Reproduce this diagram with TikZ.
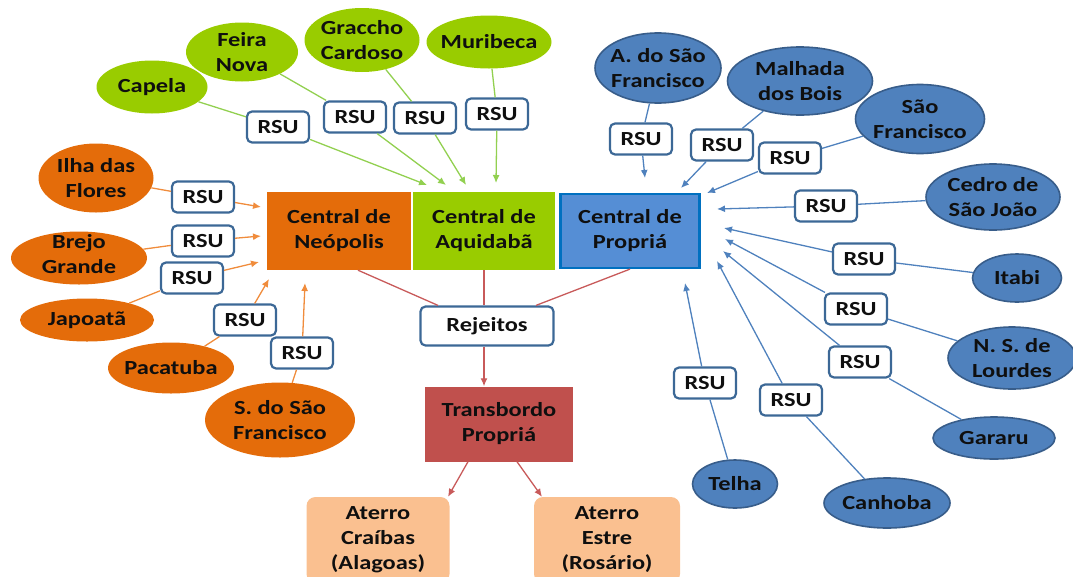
\documentclass[tikz,border=0pt]{standalone}
\usepackage{fontspec}
\setmainfont{Carlito}[FakeStretch=1.22]
\usetikzlibrary{arrows.meta,shapes.geometric}
\definecolor{orgC}{RGB}{228,108,10}
\definecolor{grnC}{RGB}{153,204,0}
\definecolor{bluC}{RGB}{79,129,189}
\definecolor{bluD}{RGB}{56,93,138}
\definecolor{propC}{RGB}{85,142,213}
\definecolor{propD}{RGB}{0,112,192}
\definecolor{redC}{RGB}{192,80,77}
\definecolor{ateC}{RGB}{250,192,144}
\definecolor{rsuC}{RGB}{60,104,150}
\definecolor{gLine}{RGB}{146,208,80}
\definecolor{oLine}{RGB}{240,140,60}
\definecolor{bLine}{RGB}{79,129,189}
\definecolor{rLine}{RGB}{200,90,90}
\definecolor{txtC}{RGB}{15,15,15}
\begin{document}
\begin{tikzpicture}[x=1pt,y=-1pt,
  font=\fontsize{20}{25}\selectfont\bfseries, text=txtC,
  every label/.style={align=center, inner sep=0pt, text=txtC},
  ell/.style={ellipse, inner sep=0pt, draw=none},
  oell/.style={ell, fill=orgC},
  gell/.style={ell, fill=grnC},
  bell/.style={ell, fill=bluC, draw=bluD, line width=1.6pt},
  rsu/.style={draw=rsuC, fill=white, rounded corners=5pt, line width=2.2pt, minimum width=62pt, minimum height=31pt, inner sep=0pt},
  cbox/.style={rectangle, minimum height=78pt, inner sep=0pt, align=center},
  tip/.style={-{Latex[length=8pt,width=7pt]}},
  gl/.style={draw=gLine, line width=1.3pt},
  ol/.style={draw=oLine, line width=1.3pt},
  bl/.style={draw=bLine, line width=1.3pt},
  rl/.style={draw=rLine, line width=1.3pt}]
\useasboundingbox (0,0) rectangle (1073,576);

% central boxes
\node[cbox, fill=orgC, minimum width=144pt] (neo) at (339,231) {Central de\\Neópolis};
\node[cbox, fill=grnC, minimum width=142pt] (aqui) at (484,231) {Central de\\Aquidabã};
\node[cbox, fill=propC, draw=propD, line width=2.2pt, minimum width=139pt, minimum height=74pt] (prop) at (630,231) {Central de\\Propriá};
\node[rsu, minimum width=133pt, minimum height=39pt] (rej) at (487,326) {Rejeitos};
\node[cbox, fill=redC, minimum width=148pt, minimum height=75pt] (trans) at (499,424) {Transbordo\\Propriá};
\node[cbox, fill=ateC, rounded corners=9pt, minimum width=143pt, minimum height=86pt] (at1) at (378,540) {\raisebox{3pt}{\parbox{140pt}{\centering Aterro\\Craíbas\\(Alagoas)}}};
\node[cbox, fill=ateC, rounded corners=9pt, minimum width=146pt, minimum height=86pt] (at2) at (607,540) {\raisebox{3pt}{\parbox{140pt}{\centering Aterro\\Estre\\(Rosário)}}};

\draw[rl] ([xshift=19pt]neo.south) -- ([xshift=-49pt]rej.north);
\draw[rl] (aqui.south) -- ([xshift=-3pt]rej.north);
\draw[rl] (prop.south) -- ([xshift=49pt]rej.north);
\draw[rl,tip] ([xshift=-3pt]rej.south) -- ([xshift=-15pt]trans.north);
\draw[rl,tip] ([xshift=-31pt]trans.south) -- ([xshift=70pt]at1.north);
\draw[rl,tip] ([xshift=18pt]trans.south) -- ([xshift=-65pt]at2.north);

% green sources
\node[gell, minimum width=111pt, minimum height=53pt, label=center:Capela] (capela) at (152,87) {};
\node[gell, minimum width=112pt, minimum height=59pt, label={center:Feira\\Nova}] (feira) at (242,52) {};
\node[gell, minimum width=115pt, minimum height=64pt, label={center:Graccho\\Cardoso}] (graccho) at (362,40) {};
\node[gell, minimum width=125pt, minimum height=53pt, label=center:Muribeca] (muribeca) at (489,42) {};
\node[rsu] (g1) at (278,127) {RSU};
\node[rsu] (g2) at (355,117) {RSU};
\node[rsu] (g3) at (425,118) {RSU};
\node[rsu] (g4) at (497,114) {RSU};
\coordinate (tg1) at (427,185);
\coordinate (tg2) at (446,185);
\coordinate (tg3) at (466,185);
\coordinate (tg4) at (496,183);
\foreach \s/\r/\t in {capela/g1/tg1, feira/g2/tg2, graccho/g3/tg3, muribeca/g4/tg4}{
  \draw[gl] (\s) -- (\r);
  \draw[gl,tip] (\r) -- (\t);
}

% orange sources
\node[oell, minimum width=115pt, minimum height=69pt, label={center:Ilha das\\Flores}] (ilha) at (96,178) {};
\node[oell, minimum width=136pt, minimum height=53pt, label={[yshift=4pt]center:Brejo\\Grande}] (brejo) at (79,258) {};
\node[oell, minimum width=134pt, minimum height=43pt, label=center:Japoatã] (japoata) at (87,320) {};
\node[oell, minimum width=126pt, minimum height=51pt, label=center:Pacatuba] (pacatuba) at (171,368) {};
\node[oell, minimum width=150pt, minimum height=75pt, label={center:S. do São\\Francisco}] (sdsf) at (280,420) {};
\node[rsu] (o1) at (203,197) {RSU};
\node[rsu] (o2) at (203,241) {RSU};
\node[rsu] (o3) at (192,278) {RSU};
\node[rsu] (o4) at (245,320) {RSU};
\node[rsu] (o5) at (302,353) {RSU};
\coordinate (to1) at (261,207);
\coordinate (to2) at (261,236);
\coordinate (to3) at (259,262);
\coordinate (to4) at (269,279);
\coordinate (to5) at (305,283);
\foreach \s/\r/\t in {ilha/o1/to1, brejo/o2/to2, japoata/o3/to3, pacatuba/o4/to4, sdsf/o5/to5}{
  \draw[ol] (\s) -- (\r);
  \draw[ol,tip] (\r) -- (\t);
}

% blue sources
\node[bell, minimum width=126pt, minimum height=70pt, label={center:A. do São\\Francisco}] (asf) at (658,68) {};
\node[bell, minimum width=145pt, minimum height=68pt, label={center:Malhada\\dos Bois}] (malhada) at (800,81) {};
\node[bell, minimum width=129pt, minimum height=69pt, label={center:São\\Francisco}] (saof) at (920,119) {};
\node[bell, minimum width=134pt, minimum height=66pt, label={center:Cedro de\\São João}] (cedro) at (993,197) {};
\node[bell, minimum width=89pt, minimum height=48pt, label=center:Itabi] (itabi) at (1017,278) {};
\node[bell, minimum width=128pt, minimum height=62pt, label={center:N. S. de\\Lourdes}] (lourdes) at (1012,358) {};
\node[bell, minimum width=122pt, minimum height=42pt, label=center:Gararu] (gararu) at (994,438) {};
\node[bell, minimum width=126pt, minimum height=50pt, label=center:Canhoba] (canhoba) at (887,503) {};
\node[bell, minimum width=85pt, minimum height=48pt, label=center:Telha] (telha) at (735,484) {};
\node[rsu] (b1) at (641,139) {RSU};
\node[rsu] (b2) at (722,145) {RSU};
\node[rsu] (b3) at (790,158) {RSU};
\node[rsu] (b4) at (826,206) {RSU};
\node[rsu] (b5) at (864,259) {RSU};
\node[rsu] (b6) at (856,309) {RSU};
\node[rsu] (b7) at (860,362) {RSU};
\node[rsu] (b8) at (791,400) {RSU};
\node[rsu] (b9) at (705,383) {RSU};
\coordinate (tb1) at (645,178);
\coordinate (tb2) at (681,188);
\coordinate (tb3) at (707,193);
\coordinate (tb4) at (717,209);
\coordinate (tb5) at (724,228);
\coordinate (tb6) at (725,239);
\coordinate (tb7) at (723,251);
\coordinate (tb8) at (717,261);
\coordinate (tb9) at (685,283);
\foreach \s/\r/\t in {asf/b1/tb1, malhada/b2/tb2, saof/b3/tb3, cedro/b4/tb4, itabi/b5/tb5, lourdes/b6/tb6, gararu/b7/tb7, canhoba/b8/tb8, telha/b9/tb9}{
  \draw[bl] (\s) -- (\r);
  \draw[bl,tip] (\r) -- (\t);
}
\end{tikzpicture}
\end{document}
